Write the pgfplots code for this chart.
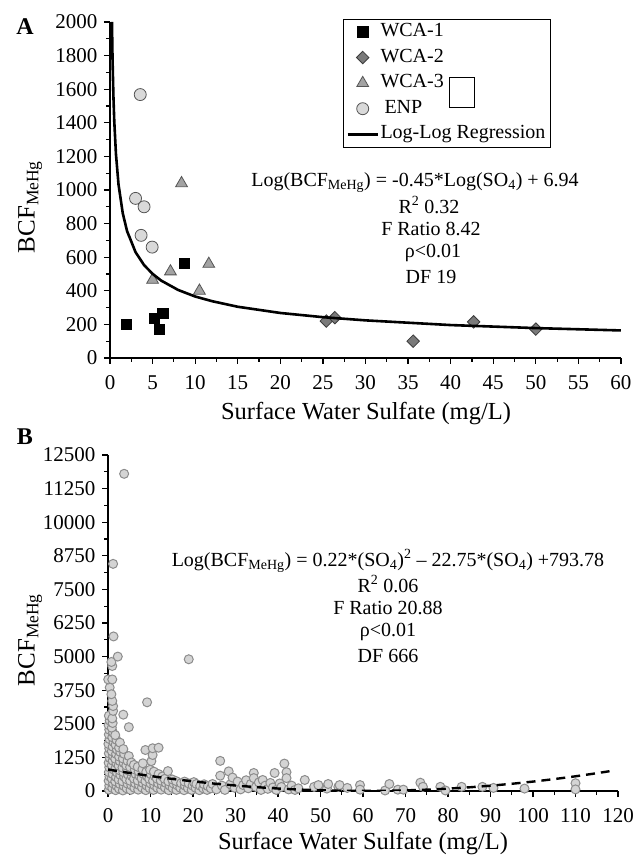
\documentclass[border=0pt]{standalone}
\usepackage{fontspec}
\setmainfont{Liberation Serif}
\usepackage{pgfplots}
\pgfplotsset{compat=1.18}
\definecolor{wcatwo}{HTML}{7A7A7A}
\definecolor{wcatwoedge}{HTML}{3C3C3C}
\definecolor{wcathree}{HTML}{A3A3A3}
\definecolor{wcathreeedge}{HTML}{555555}
\definecolor{enp}{HTML}{D9D9D9}
\definecolor{enpedge}{HTML}{555555}
\definecolor{bfill}{HTML}{D4D4D4}
\definecolor{bedge}{HTML}{8C8C8C}
\pgfplotsset{
  myaxis/.style={
    scale only axis,
    axis x line=bottom, axis y line=left,
    axis line style={-, line width=1.5pt},
    tick align=outside,
    major tick length=6pt, minor tick length=4pt,
    tick style={black, line width=1.2pt},
    /pgf/number format/assume math mode=true,
    /pgf/number format/1000 sep={},
    scaled ticks=false,
    tick label style={font=\fontsize{21}{25}\selectfont},
    xticklabel style={yshift=-8pt},
    yticklabel style={xshift=-3pt},
    clip mode=individual,
  }
}
\begin{document}
\begin{tikzpicture}
\path[use as bounding box] (0pt,0pt) rectangle (641pt,857pt);
% ---------------- Panel A ----------------
\begin{axis}[myaxis,
  at={(110pt,499pt)}, anchor=south west,
  width=511pt, height=336pt,
  xmin=0, xmax=60, ymin=0, ymax=2000,
  xtick={0,5,...,60}, ytick={0,200,...,2000},
  minor x tick num=1, minor y tick num=1,
  legend style={at={(0.456,1.0098)}, anchor=north west, draw=black, line width=0.8pt,
    fill=white, font=\fontsize{20}{24}\selectfont, inner xsep=3pt, inner ysep=3.3pt,
    row sep=6.6pt, cells={anchor=west},
    nodes={inner ysep=1pt, inner xsep=1.5pt, text height=13pt, text depth=4pt}},
  legend image code/.code={\draw[mark repeat=2,mark phase=2,#1] plot coordinates {(0pt,0pt)(15pt,0pt)(30pt,0pt)};},
]
\addplot[only marks, mark=square*, mark size=5.2pt, mark options={fill=black, draw=black, line width=0.6pt}]
  coordinates {(1.9,200) (5.2,235) (6.2,265) (5.8,170) (8.75,565)};
\addlegendentry{WCA-1}
\addplot[only marks, mark=square*, mark size=4.4pt, mark options={rotate=45, fill=wcatwo, draw=wcatwoedge, line width=0.8pt}]
  coordinates {(25.4,220) (26.4,240) (35.6,100) (42.7,215) (50,172)};
\addlegendentry{WCA-2}
\addplot[only marks, mark=triangle*, mark size=6.8pt, mark options={fill=wcathree, draw=wcathreeedge, line width=0.8pt}]
  coordinates {(5.0,465) (7.1,515) (8.4,1040) (10.5,400) (11.6,560)};
\addlegendentry{WCA-3}
\addplot[only marks, mark=*, mark size=6pt, mark options={fill=enp, draw=enpedge, line width=0.8pt}]
  coordinates {(3.55,1568) (3.0,950) (4.0,900) (3.65,730) (4.95,660)};
\addlegendentry{\hspace*{4pt}ENP}
\addplot[black, line width=2.6pt, mark=none]
  coordinates {(0.23,2001) (0.3,1775) (0.4,1560) (0.5,1411) (0.7,1213) (1,1033) (1.5,861) (2,756)
    (3,630) (4,553) (5,501) (6,461) (8,405) (10,366) (12,338) (15,305) (20,268) (25,243)
    (30,224) (40,196) (50,178) (60,164)};
\addlegendentry{Log-Log Regression}
\end{axis}
\draw[line width=0.8pt] (449pt,750pt) rectangle (474pt,780pt);
\node[font=\bfseries\fontsize{24}{28}\selectfont] at (25pt,830pt) {A};
\node[rotate=90, font=\fontsize{25}{28}\selectfont] at (30pt,650pt) {BCF\textsubscript{MeHg}};
\node[anchor=base, font=\fontsize{24.5}{28}\selectfont] at (366pt,437pt) {Surface Water Sulfate (mg/L)};
\begin{scope}[every node/.style={font=\fontsize{20}{24}\selectfont}]
\node at (415pt,674pt) {Log(BCF\textsubscript{MeHg}) = -0.45*Log(SO\textsubscript{4}) + 6.94};
\node at (429pt,652pt) {R\textsuperscript{2} 0.32};
\node at (431pt,628pt) {F Ratio 8.42};
\node at (433pt,604pt) {ρ<0.01};
\node at (431pt,580pt) {DF 19};
\end{scope}
% ---------------- Panel B ----------------
\begin{axis}[myaxis,
  at={(108pt,66pt)}, anchor=south west,
  width=510pt, height=336pt,
  xmin=0, xmax=120, ymin=0, ymax=12500,
  xtick={0,10,...,120}, ytick={0,1250,...,12500},
  minor x tick num=1, minor y tick num=1,
]
\addplot[only marks, mark=*, mark size=4.5pt, mark options={fill=bfill, draw=bedge, line width=1pt}]
  coordinates {
  (0.2,50)(0.3,200)(0.15,380)(0.35,540)(0.2,700)(0.3,880)(0.15,1050)(0.4,1230)(0.2,1400)(0.3,1580)
  (0.1,1750)(0.35,1930)(0.2,2100)(0.3,2280)(0.15,2450)(0.4,2620)(0.2,2800)(0.4,3850)(0.05,4150)
  (1.0,110)(1.2,280)(0.9,460)(1.1,630)(1.3,800)(0.9,960)(1.1,1130)(1.2,1300)(0.9,1480)(1.1,1650)
  (1.3,1820)(1.0,2000)(1.2,2170)(0.9,2350)(1.1,2530)(1.0,2700)(1.2,2980)(1.2,3160)(1.0,3350)(0.8,3600)
  (1.0,4150)(1.0,4650)(0.8,4800)(1.3,5750)(1.2,8450)
  (1.8,30)(2.0,190)(1.7,360)(1.9,520)(2.1,690)(1.8,860)(2.0,1030)(1.7,1200)(1.9,1380)(2.1,1540)
  (1.8,1720)(2.0,1900)(1.7,2080)(2.3,5000)
  (2.6,90)(2.8,260)(2.5,430)(2.9,600)(2.7,770)(2.5,940)(2.8,1110)(2.6,1280)(2.9,1450)(2.6,1620)(2.8,1800)
  (3.5,20)(3.7,190)(3.4,360)(3.8,530)(3.6,700)(3.4,870)(3.7,1040)(3.5,1210)(3.8,1380)(3.6,1560)
  (3.6,2840)(3.8,11800)
  (4.4,100)(4.6,270)(4.3,440)(4.7,610)(4.5,780)(4.3,950)(4.6,1120)(4.9,1300)(4.9,2375)
  (5.3,40)(5.5,210)(5.2,380)(5.6,550)(5.4,720)(5.2,890)(5.5,1060)
  (6.2,120)(6.4,290)(6.1,460)(6.5,630)(6.3,800)(6.1,970)
  (7.1,50)(7.3,220)(7.0,390)(7.4,560)(7.2,730)(7.0,900)
  (8.0,130)(8.2,300)(7.9,470)(8.3,640)(8.1,810)(8.2,1030)(8.8,1525)
  (8.9,30)(9.1,200)(8.8,370)(9.2,540)(9.0,710)(9.2,3300)
  (9.8,110)(10.0,280)(9.7,450)(10.1,620)(9.9,790)(10.2,1110)(10.5,1340)(10.5,1590)
  (10.7,40)(10.9,210)(10.6,380)(11.0,550)(10.8,720)(11.9,1610)
  (11.6,120)(11.8,290)(11.5,460)(11.9,630)
  (12.5,50)(12.7,220)(12.4,390)(12.8,540)
  (13.4,130)(13.6,300)(13.3,450)
  (14.3,30)(14.5,200)(14.2,360)(14.1,740)
  (15.2,110)(15.4,280)(15.1,430)
  (16.1,40)(16.3,210)(16.0,370)
  (17.0,120)(17.2,290)
  (17.9,30)(18.1,200)(18.0,350)
  (18.8,110)(19.0,280)(19.0,4900)
  (19.7,40)(19.9,200)(20.2,330)
  (20.6,120)(20.8,260)
  (21.5,30)(21.7,190)
  (22.4,100)(22.6,250)
  (23.3,40)(23.5,180)
  (24.2,100)(24.6,260)
  (25.5,60)(26.4,1120)(26.4,570)(26.8,200)(27.5,40)(28.4,730)(28.8,250)(29.3,500)(29.8,120)(30.5,350)
  (31.2,60)(31.8,220)(32.5,400)(33.0,100)(33.6,260)(34.3,670)(34.3,480)(34.8,150)(35.5,320)(36.0,40)
  (36.4,410)(37.0,200)(37.6,80)(38.2,300)(38.8,130)(39.2,670)(39.6,40)(40.4,280)(40.8,150)(41.5,1020)
  (42.0,700)(42.0,480)(42.5,60)(43.2,200)(44.0,40)(44.8,100)
  (46.3,410)(48.5,155)(49.5,220)(51.5,90)(51.8,260)(54.2,155)(54.5,220)(56.3,115)(59.3,220)(59.3,50)
  (65.2,20)(66.2,260)(68.2,50)(69.5,50)(73.5,310)(74.1,155)(78.2,155)(79.4,20)(83.2,155)(88.1,155)
  (90.7,115)(98.0,90)(110,290)(110,60)
  };
\addplot[black, line width=2.4pt, dash pattern=on 9pt off 6pt, mark=none]
  coordinates {(0,800) (5,673) (10,557) (15,452) (20,358) (25,275) (30,203) (35,142) (40,92) (45,53)
    (50,25) (55,8) (60,2) (65,7) (70,23) (75,50) (80,88) (85,137) (90,197) (95,268) (100,350)
    (105,443) (110,547) (115,662) (118,736)};
\end{axis}
\node[font=\bfseries\fontsize{24}{28}\selectfont] at (25pt,420pt) {B};
\node[rotate=90, font=\fontsize{25}{28}\selectfont] at (30pt,217pt) {BCF\textsubscript{MeHg}};
\node[anchor=base, font=\fontsize{24.5}{28}\selectfont] at (363pt,7pt) {Surface Water Sulfate (mg/L)};
\begin{scope}[every node/.style={font=\fontsize{20}{24}\selectfont}]
\node at (388pt,296pt) {Log(BCF\textsubscript{MeHg}) = 0.22*(SO\textsubscript{4})\textsuperscript{2} – 22.75*(SO\textsubscript{4}) +793.78};
\node at (388pt,273pt) {R\textsuperscript{2} 0.06};
\node at (388pt,249pt) {F Ratio 20.88};
\node at (388pt,225pt) {ρ<0.01};
\node at (388pt,201pt) {DF 666};
\end{scope}
\end{tikzpicture}
\end{document}
